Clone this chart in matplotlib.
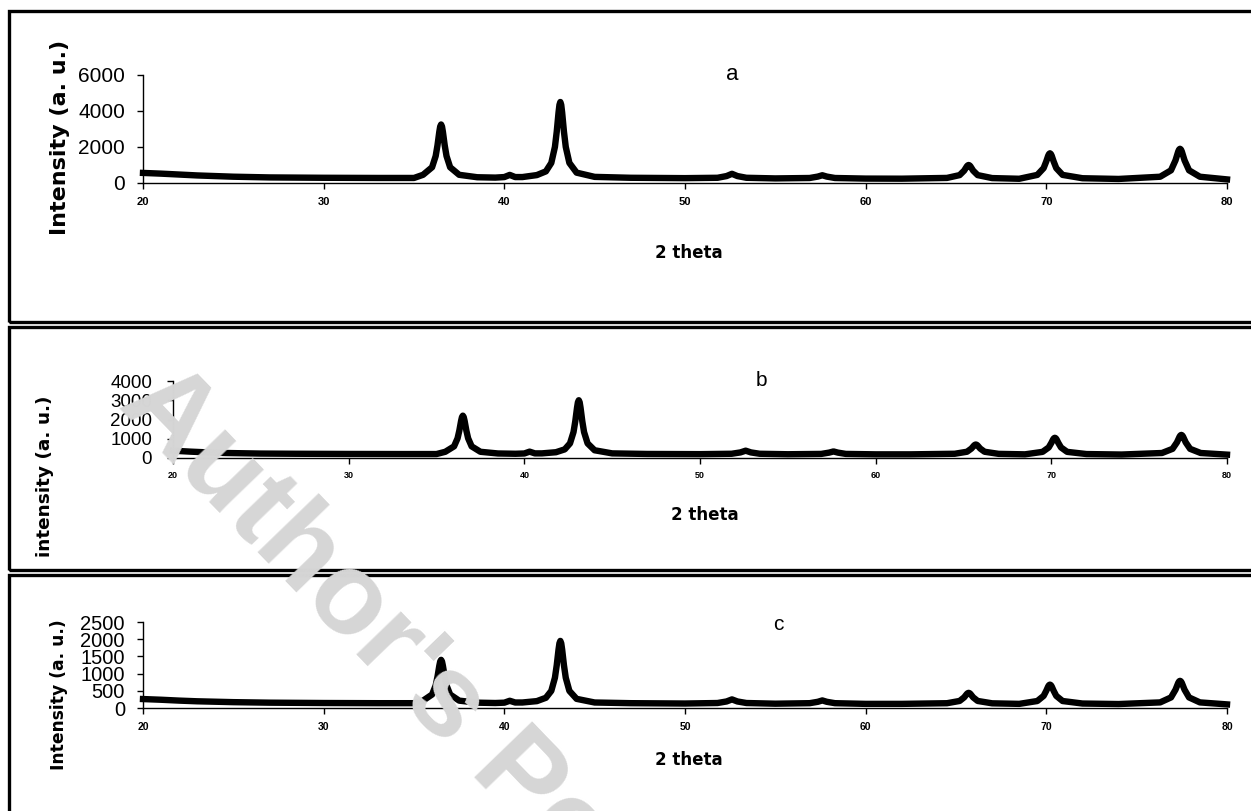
import matplotlib.pyplot as plt
from matplotlib.patches import Rectangle

# 2 theta positions (deg) shared by the three patterns
two_theta = [20, 21, 22, 23, 25, 27, 30, 33, 35,
             35.5, 36.0, 36.2, 36.3, 36.4, 36.45, 36.5, 36.55, 36.6, 36.7, 36.8, 37.0, 37.5,
             38.5, 39.5, 40.0, 40.3, 40.6, 41.0,
             41.8, 42.3, 42.6, 42.8, 42.9, 43.0, 43.05, 43.1, 43.15, 43.2, 43.3, 43.4, 43.6, 44.0,
             45, 47, 50,
             51.8, 52.3, 52.6, 52.9, 53.4,
             55,
             56.9, 57.35, 57.6, 57.85, 58.3,
             60, 62,
             64.5, 65.2, 65.45, 65.6, 65.65, 65.7, 65.75, 65.8, 65.95, 66.2, 67,
             68.5,
             69.5, 69.85, 70.0, 70.1, 70.15, 70.2, 70.25, 70.3, 70.4, 70.55, 70.9,
             72, 74,
             76.3, 76.9, 77.15, 77.3, 77.35, 77.4, 77.45, 77.5, 77.65, 77.9, 78.5,
             80]

intensity_a = [560, 520, 470, 420, 350, 310, 290, 280, 280,
               455, 874, 1498, 2092, 2840, 3137, 3250, 3137, 2840, 2092, 1498, 874, 455,
               320, 300, 330, 450, 330, 330,
               440, 646, 1116, 2004, 2850, 3916, 4339, 4500, 4339, 3916, 2850, 2004, 1116, 575,
               340, 290, 270,
               290, 385, 510, 385, 290,
               255,
               278, 356, 430, 356, 278,
               245, 240,
               282, 438, 686, 924, 979, 1000, 979, 924, 686, 438, 273,
               235,
               450, 826, 1210, 1508, 1612, 1650, 1612, 1508, 1210, 826, 450,
               265, 225,
               348, 704, 1260, 1748, 1860, 1900, 1860, 1748, 1260, 704, 348,
               200]

intensity_b = [380, 330, 290, 260, 230, 220, 210, 205, 205,
               323, 605, 1025, 1425, 1929, 2124, 2200, 2124, 1929, 1425, 1025, 605, 323,
               235, 220, 235, 330, 240, 240,
               300, 449, 760, 1348, 1908, 2614, 2894, 3000, 2894, 2614, 1908, 1348, 760, 402,
               240, 210, 200,
               220, 290, 380, 290, 220,
               195,
               212, 280, 340, 280, 212,
               190, 190,
               220, 325, 491, 649, 686, 700, 686, 649, 491, 325, 215,
               190,
               319, 548, 782, 964, 1027, 1050, 1027, 964, 782, 548, 319,
               205, 180,
               260, 476, 812, 1108, 1176, 1200, 1176, 1108, 812, 476, 260,
               175]

intensity_c = [260, 240, 215, 195, 170, 155, 145, 140, 140,
               214, 392, 657, 909, 1226, 1352, 1400, 1352, 1226, 909, 657, 392, 214,
               155, 145, 155, 210, 160, 160,
               200, 297, 498, 879, 1242, 1700, 1881, 1950, 1881, 1700, 1242, 879, 498, 266,
               160, 140, 130,
               145, 190, 250, 190, 145,
               125,
               140, 180, 220, 180, 140,
               120, 120,
               139, 205, 309, 408, 431, 440, 431, 408, 309, 205, 136,
               120,
               203, 352, 505, 624, 665, 680, 665, 624, 505, 352, 203,
               130, 115,
               163, 307, 532, 729, 774, 790, 774, 729, 532, 307, 163,
               105]

x_ticks = [20, 30, 40, 50, 60, 70, 80]
y_ticks_a = [0, 2000, 4000, 6000]
y_ticks_b = [0, 1000, 2000, 3000, 4000]
y_ticks_c = [0, 500, 1000, 1500, 2000, 2500]
panel_letters = ['a', 'b', 'c']
y_labels = ['Intensity (a. u.)', 'intensity (a. u.)', 'Intensity (a. u.)']
x_label = '2 theta'
watermark = "Author's Personal Copy"

W, H = 1251, 811
SANS = ['Liberation Sans', 'DejaVu Sans']


def fx(px):
    return px / W


def fy(py):
    return 1 - py / H


fig = plt.figure(figsize=(W / 100, H / 100), dpi=100)

# panel frames (pixel coords: top, bottom)
for top, bottom in [(10.5, 322), (326.5, 570), (574.5, 830)]:
    fig.add_artist(Rectangle((fx(8.5), fy(bottom)), fx(1270) - fx(8.5), fy(top) - fy(bottom),
                             transform=fig.transFigure, fill=False, ec='black', lw=2.4))

panels = [
    dict(y=intensity_a, yt=y_ticks_a, box=(143, 1227, 183, 75), yts=15, ytpad=8.5, xts=8, xtpad=6,
         ylab_pos=(60, 137), ylab_size=16, letter_pos=(732, 75), letter_size=16, xlab_pos=(689, 253)),
    dict(y=intensity_b, yt=y_ticks_b, box=(173, 1227, 458, 381), yts=13.5, ytpad=10.5, xts=6.5, xtpad=5,
         ylab_pos=(45, 476), ylab_size=13.3, letter_pos=(761, 380), letter_size=15, xlab_pos=(705, 515)),
    dict(y=intensity_c, yt=y_ticks_c, box=(143, 1227, 708, 622), yts=14.5, ytpad=8.5, xts=7.5, xtpad=6,
         ylab_pos=(59, 695), ylab_size=12.3, letter_pos=(778, 625), letter_size=15, xlab_pos=(689, 760)),
]

for i, p in enumerate(panels):
    l, r, b, t = p['box']
    ax = fig.add_axes([fx(l), fy(b), fx(r) - fx(l), fy(t) - fy(b)])
    ax.plot(two_theta, p['y'], color='black', lw=4.6, solid_joinstyle='round', clip_on=False)
    ax.set_xlim(20, 80)
    ax.set_ylim(0, p['yt'][-1])
    ax.set_xticks(x_ticks)
    ax.set_yticks(p['yt'])
    ax.set_facecolor('none')
    for s in ['top', 'right']:
        ax.spines[s].set_visible(False)
    for s in ['left', 'bottom']:
        ax.spines[s].set_linewidth(1.0)
    ax.tick_params(axis='y', direction='out', length=4.5, width=1, pad=p['ytpad'], labelsize=p['yts'])
    ax.tick_params(axis='x', direction='out', length=4, width=1, pad=p['xtpad'], labelsize=p['xts'])
    for lab in ax.get_yticklabels():
        lab.set_family(SANS)
    for lab in ax.get_xticklabels():
        lab.set_family(SANS)
        lab.set_fontweight('bold')

    fig.text(fx(p['ylab_pos'][0]), fy(p['ylab_pos'][1]), y_labels[i], rotation=90, ha='center', va='center',
             fontsize=p['ylab_size'], fontweight='bold', family='DejaVu Sans')
    fig.text(fx(p['xlab_pos'][0]), fy(p['xlab_pos'][1]), x_label, ha='center', va='center',
             fontsize=12, fontweight='bold', family='DejaVu Sans')
    fig.text(fx(p['letter_pos'][0]), fy(p['letter_pos'][1]), panel_letters[i], ha='center', va='center',
             fontsize=p['letter_size'], family=SANS)

fig.text(fx(116), fy(406), watermark, rotation=-46, rotation_mode='anchor', ha='left', va='baseline',
         fontsize=84, fontweight='bold', color='#d6d6d6', family=SANS, zorder=10)

fig.savefig('out.png', dpi=100)
